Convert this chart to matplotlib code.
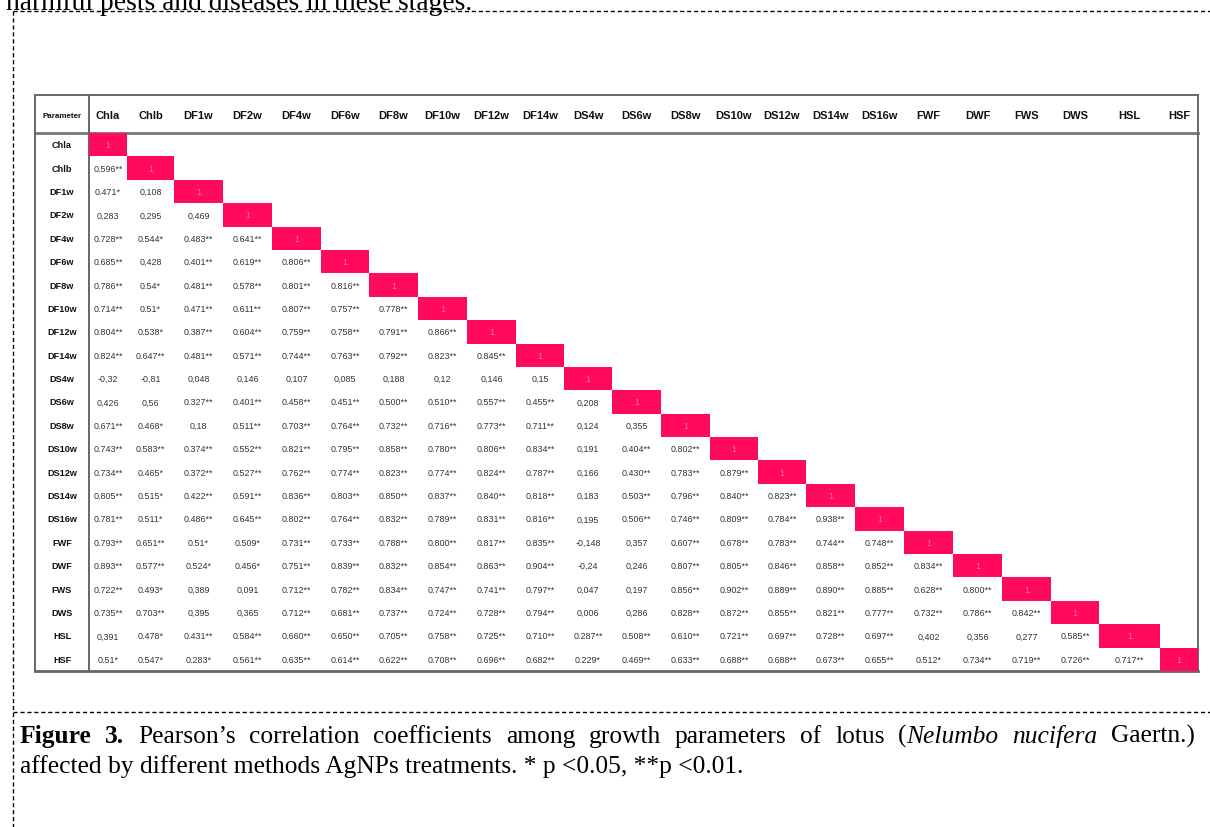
import matplotlib
matplotlib.use("Agg")
import matplotlib.pyplot as plt
from matplotlib.patches import Rectangle

# ---------------- data ----------------
params = ["Chla", "Chlb", "DF1w", "DF2w", "DF4w", "DF6w", "DF8w", "DF10w", "DF12w",
          "DF14w", "DS4w", "DS6w", "DS8w", "DS10w", "DS12w", "DS14w", "DS16w",
          "FWF", "DWF", "FWS", "DWS", "HSL", "HSF"]

row_Chla = []
row_Chlb = ["0.596**"]
row_DF1w = ["0.471*", "0,108"]
row_DF2w = ["0,283", "0,295", "0,469"]
row_DF4w = ["0.728**", "0.544*", "0.483**", "0.641**"]
row_DF6w = ["0.685**", "0,428", "0.401**", "0.619**", "0.806**"]
row_DF8w = ["0.786**", "0.54*", "0.481**", "0.578**", "0.801**", "0.816**"]
row_DF10w = ["0.714**", "0.51*", "0.471**", "0.611**", "0.807**", "0.757**", "0.778**"]
row_DF12w = ["0.804**", "0.538*", "0.387**", "0.604**", "0.759**", "0.758**", "0.791**", "0.866**"]
row_DF14w = ["0.824**", "0.647**", "0.481**", "0.571**", "0.744**", "0.763**", "0.792**", "0.823**",
             "0.845**"]
row_DS4w = ["-0,32", "-0,81", "0,048", "0,146", "0,107", "0,085", "0,188", "0,12", "0,146", "0,15"]
row_DS6w = ["0,426", "0,56", "0.327**", "0.401**", "0.458**", "0.451**", "0.500**", "0.510**",
            "0.557**", "0.455**", "0,208"]
row_DS8w = ["0.671**", "0.468*", "0,18", "0.511**", "0.703**", "0.764**", "0.732**", "0.716**",
            "0.773**", "0.711**", "0,124", "0,355"]
row_DS10w = ["0.743**", "0.583**", "0.374**", "0.552**", "0.821**", "0.795**", "0.858**", "0.780**",
             "0.806**", "0.834**", "0,191", "0.404**", "0.802**"]
row_DS12w = ["0.734**", "0.465*", "0.372**", "0.527**", "0.762**", "0.774**", "0.823**", "0.774**",
             "0.824**", "0.787**", "0,166", "0.430**", "0.783**", "0.879**"]
row_DS14w = ["0.805**", "0.515*", "0.422**", "0.591**", "0.836**", "0.803**", "0.850**", "0.837**",
             "0.840**", "0.818**", "0,183", "0.503**", "0.796**", "0.840**", "0.823**"]
row_DS16w = ["0.781**", "0.511*", "0.486**", "0.645**", "0.802**", "0.764**", "0.832**", "0.789**",
             "0.831**", "0.816**", "0,195", "0.506**", "0.746**", "0.809**", "0.784**", "0.938**"]
row_FWF = ["0.793**", "0.651**", "0.51*", "0.509*", "0.731**", "0.733**", "0.788**", "0.800**",
           "0.817**", "0.835**", "-0,148", "0,357", "0.607**", "0.678**", "0.783**", "0.744**",
           "0.748**"]
row_DWF = ["0.893**", "0.577**", "0.524*", "0.456*", "0.751**", "0.839**", "0.832**", "0.854**",
           "0.863**", "0.904**", "-0,24", "0,246", "0.807**", "0.805**", "0.846**", "0.858**",
           "0.852**", "0.834**"]
row_FWS = ["0.722**", "0.493*", "0,389", "0,091", "0.712**", "0.782**", "0.834**", "0.747**",
           "0.741**", "0.797**", "0,047", "0,197", "0.856**", "0.902**", "0.889**", "0.890**",
           "0.885**", "0.628**", "0.800**"]
row_DWS = ["0.735**", "0.703**", "0,395", "0,365", "0.712**", "0.681**", "0.737**", "0.724**",
           "0.728**", "0.794**", "0,006", "0,286", "0.828**", "0.872**", "0.855**", "0.821**",
           "0.777**", "0.732**", "0.786**", "0.842**"]
row_HSL = ["0,391", "0.478*", "0.431**", "0.584**", "0.660**", "0.650**", "0.705**", "0.758**",
           "0.725**", "0.710**", "0.287**", "0.508**", "0.610**", "0.721**", "0.697**", "0.728**",
           "0.697**", "0,402", "0,356", "0,277", "0.585**"]
row_HSF = ["0.51*", "0.547*", "0.283*", "0.561**", "0.635**", "0.614**", "0.622**", "0.708**",
           "0.696**", "0.682**", "0.229*", "0.469**", "0.633**", "0.688**", "0.688**", "0.673**",
           "0.655**", "0.512*", "0.734**", "0.719**", "0.726**", "0.717**"]

lower_rows = [row_Chla, row_Chlb, row_DF1w, row_DF2w, row_DF4w, row_DF6w, row_DF8w, row_DF10w,
              row_DF12w, row_DF14w, row_DS4w, row_DS6w, row_DS8w, row_DS10w, row_DS12w,
              row_DS14w, row_DS16w, row_FWF, row_DWF, row_FWS, row_DWS, row_HSL, row_HSF]
diag_label = "1"

top_text = "harmful pests and diseases in these stages."
# caption: each word is a list of (text, weight, style) segments
caption_line1 = [[("Figure", "bold", "normal")], [("3.", "bold", "normal")],
                 [("Pearson\u2019s", "normal", "normal")], [("correlation", "normal", "normal")],
                 [("coefficients", "normal", "normal")], [("among", "normal", "normal")],
                 [("growth", "normal", "normal")], [("parameters", "normal", "normal")],
                 [("of", "normal", "normal")], [("lotus", "normal", "normal")],
                 [("(", "normal", "normal"), ("Nelumbo", "normal", "italic")],
                 [("nucifera", "normal", "italic")], [("Gaertn.)", "normal", "normal")]]
caption_line2 = [[("affected by different methods AgNPs treatments. * p <0.05, **p <0.01.",
                   "normal", "normal")]]

# ---------------- layout (pixels) ----------------
W, H = 1210, 828
col_edges = [89, 127, 174, 223, 272, 321, 369, 418, 467, 516, 564, 612, 661, 710, 758,
             806, 855, 904, 953, 1002, 1051, 1099, 1160, 1198]
tab_left, lab_right = 35, 89
tab_top, head_bot, tab_bot = 96, 134, 672
n = len(params)
row_h = (tab_bot - head_bot) / n

pink = "#FF0A5C"
one_color = "#F47A8C"
line_color = "#666666"
sans = ["Liberation Sans", "DejaVu Sans"]
serif = ["Liberation Serif", "DejaVu Serif"]

fig = plt.figure(figsize=(W / 100, H / 100), dpi=100)
ax = fig.add_axes([0, 0, 1, 1])
ax.set_xlim(0, W)
ax.set_ylim(H, 0)
ax.axis("off")

# outer dashed frame of the page
ax.plot([13, W], [12, 12], color="black", lw=1.0, ls=(0, (3, 2)))
ax.plot([13, 13], [12, H], color="black", lw=1.0, ls=(0, (3, 2)))
ax.plot([13, W], [713, 713], color="black", lw=1.0, ls=(0, (3, 2)))

# cut-off text at page top
ax.text(6, 10.5, top_text, family=serif, fontsize=19.8, ha="left", va="baseline", color="black")

# table borders
ax.plot([tab_left, col_edges[-1]], [tab_top, tab_top], color=line_color, lw=1.4)
ax.plot([tab_left, col_edges[-1]], [head_bot, head_bot], color="#777777", lw=2.0)
ax.plot([tab_left, col_edges[-1]], [tab_bot, tab_bot], color=line_color, lw=2.0)
for x in (tab_left, lab_right, col_edges[-1]):
    ax.plot([x, x], [tab_top, tab_bot], color=line_color, lw=1.4)

# header
ax.text((tab_left + lab_right) / 2, (tab_top + head_bot) / 2 + 1, "Parameter", family=sans,
        fontsize=5.8, fontweight="bold", ha="center", va="center", color="#111111")
for j, p in enumerate(params):
    cx = (col_edges[j] + col_edges[j + 1]) / 2
    ax.text(cx, (tab_top + head_bot) / 2 + 1, p, family=sans, fontsize=8, fontweight="bold",
            ha="center", va="center", color="#111111")

# rows
for i, p in enumerate(params):
    cy = head_bot + row_h * (i + 0.5)
    ax.text((tab_left + lab_right) / 2, cy, p, family=sans, fontsize=6.6, fontweight="bold",
            ha="center", va="center", color="#111111")
    for j, v in enumerate(lower_rows[i]):
        cx = (col_edges[j] + col_edges[j + 1]) / 2
        ax.text(cx, cy, v, family=sans, fontsize=6.4, ha="center", va="center", color="#333333")
    # diagonal cell
    x0, x1 = col_edges[i], col_edges[i + 1]
    ax.add_patch(Rectangle((x0, head_bot + row_h * i), x1 - x0, row_h, facecolor=pink,
                           edgecolor="none", zorder=2))
    ax.text((x0 + x1) / 2, cy, diag_label, family=sans, fontsize=6.4, ha="center", va="center",
            color=one_color, zorder=3)

# caption with mixed styles
fig.canvas.draw()
renderer = fig.canvas.get_renderer()
cap_size = 18.4


def draw_line(words, x_left, y, size, x_right=None):
    # first create word texts and measure them
    made = []
    for w in words:
        segs = []
        for txt, weight, style in w:
            t = ax.text(0, y, txt, family=serif, fontsize=size, fontweight=weight,
                        fontstyle=style, ha="left", va="baseline", color="black")
            segs.append((t, t.get_window_extent(renderer).width))
        made.append(segs)
    probe = ax.text(0, y, "a a", family=serif, fontsize=size)
    pa = ax.text(0, y, "aa", family=serif, fontsize=size)
    space_w = probe.get_window_extent(renderer).width - pa.get_window_extent(renderer).width
    probe.remove()
    pa.remove()
    total = sum(wd for segs in made for _, wd in segs)
    gaps = len(made) - 1
    if x_right is not None and gaps > 0:
        space_w = (x_right - x_left - total) / gaps
    x = x_left
    for segs in made:
        for t, wd in segs:
            t.set_x(x)
            x += wd
        x += space_w


draw_line(caption_line1, 20, 743, cap_size, x_right=1195)
draw_line(caption_line2, 20, 773, cap_size)

fig.savefig("out.png", dpi=100)
